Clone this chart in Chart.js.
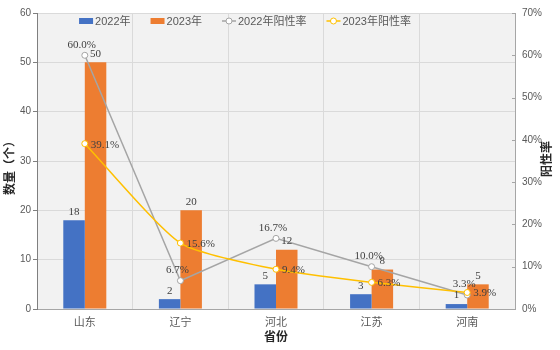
<!DOCTYPE html>
<html><head><meta charset="utf-8">
<script src="https://cdn.jsdelivr.net/npm/chart.js@4"></script>
<style>html,body{margin:0;padding:0;background:#fff}#wrap{width:560px;height:350px}</style>
</head><body><div id="wrap"><canvas id="c" width="560" height="350"></canvas></div>
<script>
const categories = ['山东', '辽宁', '河北', '江苏', '河南'];
const count2022 = [18, 2, 5, 3, 1];
const count2023 = [50, 20, 12, 8, 5];
const rate2022 = [60.0, 6.7, 16.7, 10.0, 3.3];
const rate2023 = [39.1, 15.6, 9.4, 6.3, 3.9];
const seriesNames = ['2022年', '2023年', '2022年阳性率', '2023年阳性率'];
const countTitle = '数量（个）';
const rateTitle = '阳性率';
const xTitle = '省份';

const BLUE = '#4472C4', ORANGE = '#ED7D31', GRAY = '#A5A5A5', YELLOW = '#FFC000';
const SANS = "'Liberation Sans','Noto Sans CJK SC',sans-serif";
const SERIF = "'Liberation Serif','Noto Sans CJK SC',serif";

const custom = {
  id: 'custom',
  beforeDraw(chart) {
    const {ctx, chartArea: a} = chart;
    ctx.save();
    ctx.fillStyle = '#f2f2f2';
    ctx.fillRect(a.left, a.top, a.right - a.left, a.bottom - a.top);
    ctx.restore();
  },
  afterDatasetsDraw(chart) {
    const ctx = chart.ctx;
    ctx.save();
    ctx.font = '11px ' + SERIF;
    ctx.fillStyle = '#404040';
    [0, 1].forEach(di => {
      const meta = chart.getDatasetMeta(di);
      meta.data.forEach((el, i) => {
        ctx.textAlign = 'center'; ctx.textBaseline = 'bottom';
        ctx.fillText(String(chart.data.datasets[di].data[i]), el.x, el.y - 3);
      });
    });
    chart.getDatasetMeta(2).data.forEach((el, i) => {
      ctx.textAlign = 'center'; ctx.textBaseline = 'bottom';
      ctx.fillText(rate2022[i].toFixed(1) + '%', el.x - 3, el.y - 5);
    });
    chart.getDatasetMeta(3).data.forEach((el, i) => {
      ctx.textAlign = 'left'; ctx.textBaseline = 'middle';
      ctx.fillText(rate2023[i].toFixed(1) + '%', el.x + 6, el.y + 1);
    });
    ctx.restore();
  },
  afterDraw(chart) {
    const {ctx, chartArea: a} = chart;
    ctx.save();
    ctx.fillStyle = '#262626';
    ctx.font = 'bold 12px ' + SANS;
    ctx.textAlign = 'center'; ctx.textBaseline = 'middle';
    ctx.save(); ctx.translate(11, 165); ctx.rotate(-Math.PI / 2); ctx.fillText(countTitle, 0, 0); ctx.restore();
    ctx.save(); ctx.translate(548, 159); ctx.rotate(-Math.PI / 2); ctx.fillText(rateTitle, 0, 0); ctx.restore();
    ctx.fillText(xTitle, 276, 338);
    ctx.strokeStyle = '#a6a6a6'; ctx.lineWidth = 1;
    const y1 = chart.scales.y1;
    y1.ticks.forEach(t => {
      const y = Math.round(y1.getPixelForValue(t.value)) + 0.5;
      ctx.beginPath(); ctx.moveTo(a.right - 3, y); ctx.lineTo(a.right, y); ctx.stroke();
    });
    ctx.font = '11px ' + SANS;
    ctx.textAlign = 'left'; ctx.textBaseline = 'middle';
    const sw = 14, gap = 2, space = 20;
    const widths = seriesNames.map(n => sw + gap + ctx.measureText(n).width);
    const total = widths.reduce((s, w) => s + w, 0) + space * (seriesNames.length - 1);
    let x = 245 - total / 2;
    const ly = 21;
    const cols = [BLUE, ORANGE, GRAY, YELLOW];
    seriesNames.forEach((n, i) => {
      if (i < 2) {
        ctx.fillStyle = cols[i];
        ctx.fillRect(x, ly - 3, sw, 6);
      } else {
        ctx.strokeStyle = cols[i]; ctx.lineWidth = 1.5;
        ctx.beginPath(); ctx.moveTo(x, ly); ctx.lineTo(x + sw, ly); ctx.stroke();
        ctx.beginPath(); ctx.arc(x + sw / 2, ly, 3, 0, Math.PI * 2);
        ctx.fillStyle = '#fff'; ctx.fill(); ctx.lineWidth = 1; ctx.stroke();
      }
      ctx.fillStyle = '#595959';
      ctx.fillText(n, x + sw + gap, ly + 1);
      x += widths[i] + space;
    });
    ctx.restore();
  }
};

new Chart(document.getElementById('c'), {
  data: {
    labels: categories,
    datasets: [
      {type: 'bar', label: seriesNames[0], data: count2022, backgroundColor: BLUE, yAxisID: 'y', order: 2,
       categoryPercentage: 0.45, barPercentage: 1},
      {type: 'bar', label: seriesNames[1], data: count2023, backgroundColor: ORANGE, yAxisID: 'y', order: 2,
       categoryPercentage: 0.45, barPercentage: 1},
      {type: 'line', label: seriesNames[2], data: rate2022, borderColor: GRAY, borderWidth: 1.5, tension: 0,
       pointRadius: 3, pointBackgroundColor: '#fff', pointBorderColor: GRAY, pointBorderWidth: 1, yAxisID: 'y1', order: 1},
      {type: 'line', label: seriesNames[3], data: rate2023, borderColor: YELLOW, borderWidth: 1.5, tension: 0.2,
       pointRadius: 3, pointBackgroundColor: '#fff', pointBorderColor: YELLOW, pointBorderWidth: 1, yAxisID: 'y1', order: 0}
    ]
  },
  options: {
    responsive: false,
    animation: false,
    layout: {padding: {top: 13, left: 0, right: 0, bottom: 0}},
    plugins: {legend: {display: false}, tooltip: {enabled: false}},
    scales: {
      x: {
        afterFit: s => { s.height = 41; },
        grid: {display: true, offset: true, color: '#dadada', drawTicks: false},
        border: {display: true, color: '#a6a6a6'},
        ticks: {padding: 7, color: '#595959', font: {family: SANS, size: 11}}
      },
      y: {
        position: 'left', min: 0, max: 60,
        afterFit: s => { s.width = 37; },
        grid: {color: '#dadada', tickLength: 4, tickColor: '#7f7f7f'},
        border: {display: true, color: '#7f7f7f'},
        ticks: {stepSize: 10, padding: 2, color: '#595959', font: {family: SANS, size: 10}}
      },
      y1: {
        position: 'right', min: 0, max: 70,
        afterFit: s => { s.width = 45; },
        grid: {display: false, drawTicks: false},
        border: {display: true, color: '#a6a6a6'},
        ticks: {stepSize: 10, padding: 7, color: '#595959', font: {family: SANS, size: 10},
                callback: v => v + '%'}
      }
    }
  },
  plugins: [custom]
});
</script></body></html>
